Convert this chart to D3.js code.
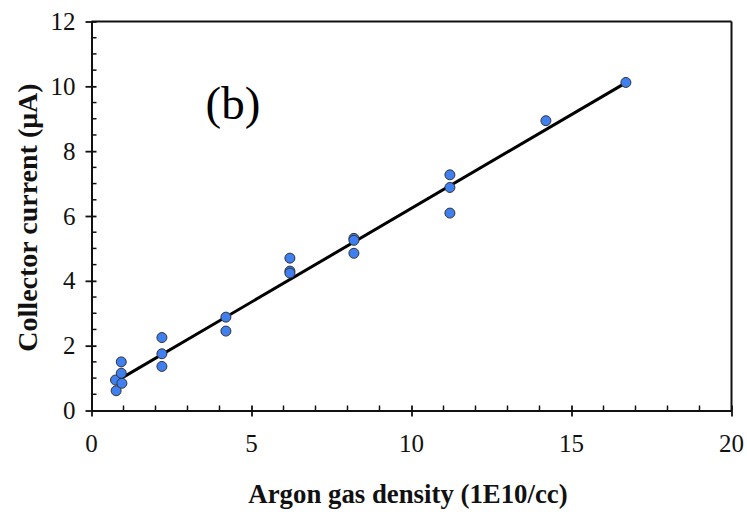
<!DOCTYPE html>
<html>
<head>
<meta charset="utf-8">
<script src="https://cdn.jsdelivr.net/npm/d3@7"></script>
<style>
  html, body { margin: 0; padding: 0; background: #fff; }
  svg { display: block; }
</style>
</head>
<body>
<svg id="chart" width="747" height="514"></svg>
<script>
// ---- data ----
const densityValues = [0.77, 0.75, 0.95, 0.93, 0.93, 2.2, 2.2, 2.2, 4.2, 4.2, 6.2, 6.2, 6.2, 8.2, 8.2, 8.2, 11.2, 11.2, 11.2, 14.2, 16.7];
const currentValues = [0.61, 0.94, 0.84, 1.15, 1.5, 2.25, 1.75, 1.36, 2.88, 2.45, 4.70, 4.30, 4.24, 5.31, 5.25, 4.85, 7.27, 6.88, 6.09, 8.94, 10.12];
const fitX = [0.82, 16.68];
const fitY = [0.93, 10.1];
const xTicks = [0, 5, 10, 15, 20];
const yTicks = [0, 2, 4, 6, 8, 10, 12];
const xTitle = "Argon gas density (1E10/cc)";
const yTitle = "Collector current (\u03bcA)";
const panelLabel = "(b)";

(function () {
// ---- layout ----
const svg = d3.select("#chart");
const pLeft = 91.5, pRight = 731.5, pTop = 21.5, pBottom = 410.5;
const x = d3.scaleLinear().domain([0, 20]).range([pLeft, pRight]);
const y = d3.scaleLinear().domain([0, 12]).range([pBottom, pTop]);
const font = "Liberation Serif";

// box top and right
svg.append("line").attr("x1", pLeft).attr("x2", pRight).attr("y1", pTop).attr("y2", pTop)
  .attr("stroke", "#111").attr("stroke-width", 2);
svg.append("line").attr("x1", pRight).attr("x2", pRight).attr("y1", pTop).attr("y2", pBottom)
  .attr("stroke", "#111").attr("stroke-width", 2);

// minor ticks (inside)
const xMinor = d3.range(0, 21, 1).filter(v => v % 5 !== 0);
const yMinor = d3.range(0, 12.01, 0.5).filter(v => v % 2 !== 0);
svg.append("g").selectAll("line").data(xMinor).join("line")
  .attr("x1", d => x(d)).attr("x2", d => x(d)).attr("y1", pBottom).attr("y2", pBottom - 5)
  .attr("stroke", "#111").attr("stroke-width", 1.5);
svg.append("g").selectAll("line").data(yMinor).join("line")
  .attr("x1", pLeft).attr("x2", pLeft + 5).attr("y1", d => y(d)).attr("y2", d => y(d))
  .attr("stroke", "#111").attr("stroke-width", 1.5);

// x axis (line + major ticks)
const xAxis = d3.axisBottom(x).tickValues(xTicks).tickSize(0).tickFormat("");
const gx = svg.append("g").attr("transform", `translate(0,${pBottom})`).call(xAxis);
gx.select(".domain").attr("stroke", "#111").attr("stroke-width", 2);
gx.selectAll(".tick line").remove();
gx.selectAll(".tick text").remove();
gx.selectAll(".tick").append("line").attr("y1", -5).attr("y2", 6).attr("stroke", "#111").attr("stroke-width", 1.8);

// y axis
const yAxis = d3.axisLeft(y).tickValues(yTicks).tickSize(0).tickFormat("");
const gy = svg.append("g").attr("transform", `translate(${pLeft},0)`).call(yAxis);
gy.select(".domain").attr("stroke", "#111").attr("stroke-width", 2);
gy.selectAll(".tick line").remove();
gy.selectAll(".tick text").remove();
gy.selectAll(".tick").append("line").attr("x1", -6).attr("x2", 5).attr("stroke", "#111").attr("stroke-width", 1.8);

// tick labels
svg.append("g").selectAll("text").data(xTicks).join("text")
  .attr("x", d => x(d)).attr("y", pBottom + 41).attr("text-anchor", "middle")
  .attr("font-family", font).attr("font-size", 25).attr("fill", "#111").text(d => d);
svg.append("g").selectAll("text").data(yTicks).join("text")
  .attr("x", pLeft - 16).attr("y", d => y(d) + 8.5).attr("text-anchor", "end")
  .attr("font-family", font).attr("font-size", 25).attr("fill", "#111").text(d => d);

// axis titles
svg.append("text").attr("x", 408).attr("y", 503)
  .attr("text-anchor", "middle").attr("font-family", font).attr("font-weight", "bold")
  .attr("font-size", 26.8).attr("fill", "#111").text(xTitle);
svg.append("text").attr("transform", `translate(37,217.5) rotate(-90)`)
  .attr("text-anchor", "middle").attr("font-family", font).attr("font-weight", "bold")
  .attr("font-size", 28).attr("fill", "#111").text(yTitle);

// fit line
const line = d3.line().x(d => x(d[0])).y(d => y(d[1]));
svg.append("path").datum(fitX.map((v, i) => [v, fitY[i]])).attr("d", line)
  .attr("fill", "none").attr("stroke", "#000").attr("stroke-width", 3);

// points
const pts = densityValues.map((v, i) => [v, currentValues[i]]);
svg.append("g").selectAll("circle").data(pts).join("circle")
  .attr("cx", d => x(d[0])).attr("cy", d => y(d[1])).attr("r", 5)
  .attr("fill", "#3f7fef").attr("stroke", "#333").attr("stroke-width", 1);

// panel label
svg.append("text").attr("x", 233).attr("y", 119).attr("text-anchor", "middle")
  .attr("font-family", font).attr("font-size", 47).attr("fill", "#000").text(panelLabel);
})();
</script>
</body>
</html>
